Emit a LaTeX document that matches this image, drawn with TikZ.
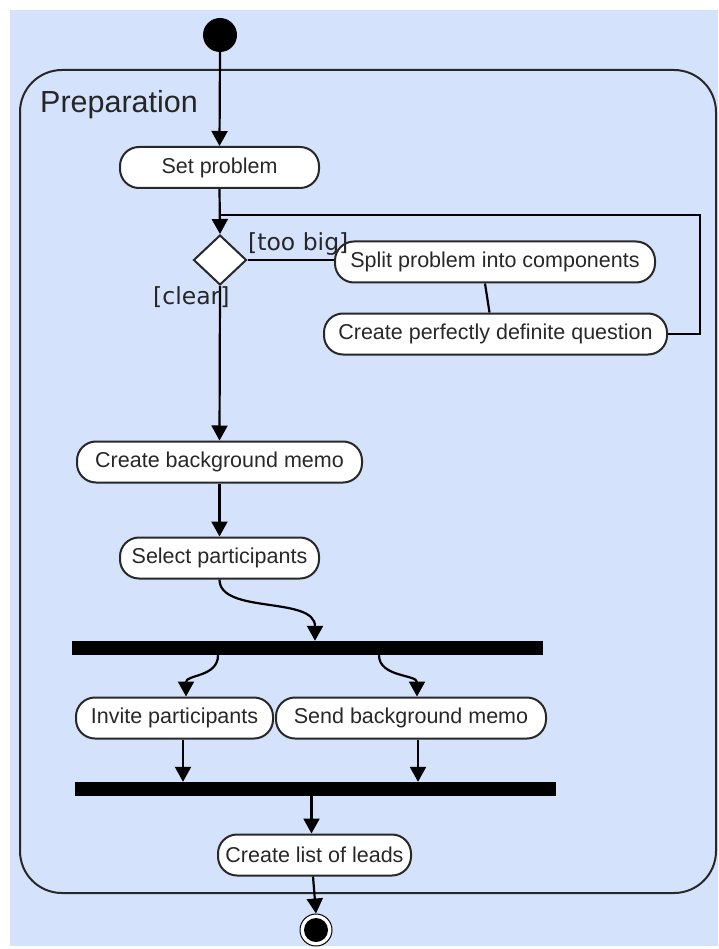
\documentclass[tikz,border=0pt]{standalone}
\usepackage{fontspec}
\setmainfont{Liberation Sans}
\newfontfamily\guardfont{DejaVu Sans}
\usetikzlibrary{arrows.meta,shapes.geometric}
\definecolor{canvas}{RGB}{212,226,252}
\definecolor{ink}{RGB}{40,40,40}

\begin{document}
\begin{tikzpicture}[x=1pt,y=-1pt,
  action/.style={draw=ink, line width=2pt, fill=white, rounded corners=19pt,
    minimum height=41pt, inner sep=0pt, text=ink,
    font=\fontsize{21.5}{24}\selectfont},
  syncbar/.style={fill=black, draw=none, minimum height=14pt, inner sep=0pt},
  flow/.style={line width=2.2pt, -{Triangle[width=16pt,length=15pt]}},
  link/.style={line width=2.2pt},
  guard/.style={font=\guardfont\fontsize{23.5}{26}\selectfont, inner sep=0pt,
    anchor=base west, text=black!85},
]
\useasboundingbox (0,0) rectangle (718,949);
\fill[canvas] (10,10) rectangle (718,946);

% activity frame
\draw[ink, line width=2pt, rounded corners=42pt] (20,70) rectangle (716,893);
\node[anchor=base west, inner sep=0pt, text=black!85,
      font=\fontsize{30.5}{34}\selectfont] (title) at (40,113) {Preparation};

% initial and final nodes
\node[circle, fill=black, minimum size=34pt, inner sep=0pt] (start) at (220,35) {};
\node[circle, draw=black, line width=1pt, fill=white, minimum size=32pt, inner sep=0pt,
      path picture={\fill[black] (path picture bounding box.center) circle (12pt);}]
      (stop) at (316,930) {};

% actions
\node[action, minimum width=199pt] (setp)   at (219.5,167.5) {Set problem};
\node[diamond, draw=ink, line width=2pt, fill=white, minimum width=53pt,
      minimum height=50pt, inner sep=0pt] (dec) at (220,260) {};
\node[action, minimum width=320pt] (split)  at (495,262)   {Split problem into components};
\node[action, minimum width=343pt] (cpdq)   at (495.5,334) {Create perfectly definite question};
\node[action, minimum width=285pt] (cbm)    at (219.5,462) {Create background memo};
\node[action, minimum width=199pt] (selp)   at (219.5,558) {Select participants};
\node[action, minimum width=197pt] (invite) at (174.5,718) {Invite participants};
\node[action, minimum width=270pt] (send)   at (411,718)   {Send background memo};
\node[action, minimum width=193pt] (cll)    at (314.5,855) {Create list of leads};

% fork and join bars
\node[syncbar, minimum width=471pt] (bar1) at (307.5,648) {};
\node[syncbar, minimum width=481pt] (bar2) at (315.5,789) {};

% control flow
\draw[flow] (start.south) -- (setp.north);
\draw[flow] (setp.south) -- (dec.north);
\draw[link] (dec.east) -- (dec.east -| split.west);
\draw[link] ([xshift=-10pt]split.south) -- ([xshift=-6pt]cpdq.north);
\coordinate (loopc) at (700,215);
\coordinate (loopj) at (220,215);
\draw[link] (cpdq.east) -| (loopc) -- (loopj);
\draw[flow] (dec.south) -- (cbm.north);
\draw[flow] (cbm.south) -- (selp.north);
\draw[flow] (selp.south) .. controls +(0,35) and +(0,-45) .. ([xshift=7.5pt]bar1.north);
\draw[flow] ([xshift=-89.5pt]bar1.south) .. controls +(0,22) and +(0,-22) .. ([xshift=11.5pt]invite.north);
\draw[flow] ([xshift=71.5pt]bar1.south) .. controls +(0,22) and +(0,-22) .. ([xshift=6pt]send.north);
\draw[flow] ([xshift=8.5pt]invite.south) -- ([xshift=-132.5pt]bar2.north);
\draw[flow] ([xshift=7pt]send.south) -- ([xshift=102.5pt]bar2.north);
\draw[flow] ([xshift=-4pt]bar2.south) -- ([xshift=-3pt]cll.north);
\draw[flow] ([xshift=-1.5pt]cll.south) -- (stop.north);

% guards
\node[guard] (gbig) at (248,251) {[too big]};
\node[guard] (gclear) at (153,305) {[clear]};
\end{tikzpicture}
\end{document}
